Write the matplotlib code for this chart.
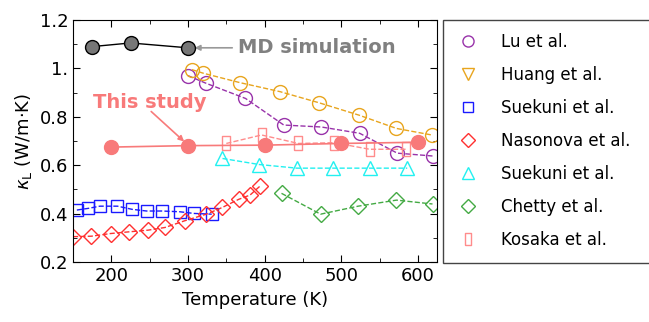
import numpy as np
import matplotlib
matplotlib.use('Agg')
import matplotlib.pyplot as plt
from matplotlib.lines import Line2D
from matplotlib.ticker import MultipleLocator

# data
md_T = [175, 225, 300]
md_k = [1.09, 1.105, 1.085]

this_T = [200, 300, 400, 500, 600]
this_k = [0.675, 0.681, 0.683, 0.69, 0.695]

lu_T = [300, 324, 375, 425, 474, 524, 573, 620]
lu_k = [0.97, 0.938, 0.876, 0.766, 0.758, 0.732, 0.65, 0.638]

huang_T = [305, 320, 368, 420, 471, 523, 572, 618]
huang_k = [0.995, 0.98, 0.941, 0.904, 0.858, 0.807, 0.752, 0.725]

suek1_T = [155, 170, 185, 208, 227, 246, 266, 289, 308, 331]
suek1_k = [0.415, 0.422, 0.431, 0.431, 0.418, 0.411, 0.411, 0.408, 0.401, 0.398]

nas_T = [150, 174, 199, 223, 248, 270, 296, 324, 345, 366, 381, 394]
nas_k = [0.305, 0.307, 0.318, 0.325, 0.332, 0.343, 0.371, 0.398, 0.426, 0.459, 0.477, 0.514]

suek2_T = [345, 393, 442, 489, 537, 586]
suek2_k = [0.628, 0.603, 0.588, 0.588, 0.588, 0.588]

chetty_T = [422, 473, 522, 572, 619]
chetty_k = [0.484, 0.398, 0.431, 0.456, 0.44]

kosaka_T = [350, 396, 444, 491, 537, 584]
kosaka_k = [0.69, 0.725, 0.69, 0.693, 0.666, 0.666]

labels = ['Lu et al.', 'Huang et al.', 'Suekuni et al.', 'Nasonova et al.',
          'Suekuni et al.', 'Chetty et al.', 'Kosaka et al.']
yticks = [0.2, 0.4, 0.6, 0.8, 1.0, 1.2]
yticklabels = ['0.2', '0.4', '0.6', '0.8', '1.', '1.2']

c_lu = '#9933aa'
c_huang = '#e8a51e'
c_suek1 = '#1a1aff'
c_nas = '#ff3030'
c_suek2 = '#22f0f0'
c_chetty = '#44aa44'
c_kos = '#ff8c8c'
c_this = '#f87a7a'

rect = [(-0.55, -1), (0.55, -1), (0.55, 1), (-0.55, 1), (-0.55, -1)]

plt.rcParams['font.family'] = 'DejaVu Sans'
fig = plt.figure(figsize = (6.49, 3.22), dpi = 100)
ax = fig.add_axes([0.1125, 0.186, 0.561, 0.752])

ms = 10
kw = dict(ls = '--', lw = 1, mfc = 'none', mew = 1)
ax.plot(lu_T, lu_k, marker = 'o', color = c_lu, ms = ms, **kw)
ax.plot(huang_T, huang_k, marker = 'o', color = c_huang, ms = ms, **kw)
ax.plot(kosaka_T, kosaka_k, marker = rect, color = c_kos, ms = ms, **kw)
ax.plot(suek2_T, suek2_k, marker = '^', color = c_suek2, ms = ms, **kw)
ax.plot(suek1_T, suek1_k, marker = 's', color = c_suek1, ms = 9, **kw)
ax.plot(nas_T, nas_k, marker = 'D', color = c_nas, ms = 8, **kw)
ax.plot(chetty_T, chetty_k, marker = 'D', color = c_chetty, ms = 8, **kw)

ax.plot(this_T, this_k, '-', marker = 'o', color = c_this, ms = 10, lw = 1.2, zorder = 5)
ax.plot(md_T, md_k, '-', marker = 'o', color = 'black', mfc = '#777777', mec = 'black',
        ms = 10, lw = 1, zorder = 5)

ax.annotate('MD simulation', xy = (305, 1.085), xytext = (365, 1.085),
            fontsize = 14, fontweight = 'bold', color = '#808080', va = 'center',
            arrowprops = dict(arrowstyle = '-|>', color = '#999999', lw = 1.2,
                              mutation_scale = 8, shrinkA = 2, shrinkB = 2))
ax.text(250, 0.86, 'This study', fontsize = 14, fontweight = 'bold', color = c_this,
        ha = 'center', va = 'center')
ax.annotate('', xy = (295, 0.698), xytext = (252, 0.822),
            arrowprops = dict(arrowstyle = '-|>', color = c_this, lw = 1.2,
                              mutation_scale = 8, shrinkA = 0, shrinkB = 0))

ax.set_xlim(150, 625)
ax.set_ylim(0.2, 1.2)
ax.xaxis.set_major_locator(MultipleLocator(100))
ax.xaxis.set_minor_locator(MultipleLocator(50))
ax.set_yticks(yticks)
ax.set_yticklabels(yticklabels)
ax.yaxis.set_minor_locator(MultipleLocator(0.1))
ax.tick_params(which = 'both', direction = 'in', top = True, right = True, labelsize = 13)
ax.tick_params(which = 'major', length = 5)
ax.tick_params(which = 'minor', length = 3)
ax.set_xlabel('Temperature (K)', fontsize = 13)
ax.set_ylabel(r'$\kappa_{\rm L}$ (W/m$\cdot$K)', fontsize = 13, labelpad = 4)

handles = [
    Line2D([], [], ls = 'none', marker = 'o', color = c_lu, mfc = 'none', ms = 8),
    Line2D([], [], ls = 'none', marker = 'v', color = c_huang, mfc = 'none', ms = 8),
    Line2D([], [], ls = 'none', marker = 's', color = c_suek1, mfc = 'none', ms = 7),
    Line2D([], [], ls = 'none', marker = 'D', color = c_nas, mfc = 'none', ms = 7),
    Line2D([], [], ls = 'none', marker = '^', color = c_suek2, mfc = 'none', ms = 8),
    Line2D([], [], ls = 'none', marker = 'D', color = c_chetty, mfc = 'none', ms = 7),
    Line2D([], [], ls = 'none', marker = rect, color = c_kos, mfc = 'none', ms = 9),
]
leg = ax.legend(handles, labels, loc = 'upper left', bbox_to_anchor = (1.015, 0.0, 0.58, 1.0),
                mode = 'expand', borderaxespad = 0, fontsize = 12, labelspacing = 0.9,
                handletextpad = 1.2, fancybox = False, edgecolor = '#444444', framealpha = 1,
                borderpad = 0.8, handlelength = 1.5)
leg.get_frame().set_linewidth(1)

plt.savefig('out.png', dpi = 100)
plt.close()
